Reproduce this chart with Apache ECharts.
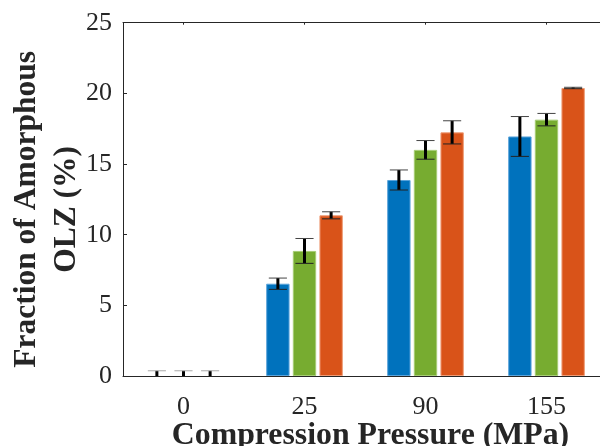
<!DOCTYPE html>
<html>
<head>
<meta charset="utf-8">
<script src="https://cdn.jsdelivr.net/npm/echarts@6/dist/echarts.min.js"></script>
<style>
html,body{margin:0;padding:0;background:#fff;overflow:hidden;}
#chart{width:600px;height:446px;}
</style>
</head>
<body>
<div id="chart"></div>
<script>
// ---- data ----
const categories = ['0', '25', '90', '155'];
const seriesNames = ['Series 1', 'Series 2', 'Series 3'];
const blueValues  = [0, 6.53, 13.87, 16.95];
const blueErrors  = [0.37, 0.40, 0.71, 1.41];
const greenValues = [0, 8.85, 16.0, 18.14];
const greenErrors = [0.37, 0.88, 0.66, 0.44];
const redValues   = [0, 11.37, 17.24, 20.38];
const redErrors   = [0.37, 0.25, 0.82, 0.05];
const yTicks = { min: 0, max: 25, interval: 5 };

const colors = ['#0072BD', '#77AC30', '#D95319'];
const edgeColors = ['#5aa3da', '#a6cc74', '#ee9a74'];
const FONT = 'Liberation Serif';
const BAR_W = 0.193;   // fraction of category band
const BAR_GAP = 0.14;  // fraction of bar width
const CAP_FRAC = 0.15; // cap width as fraction of band

const values = [blueValues, greenValues, redValues];
const errors = [blueErrors, greenErrors, redErrors];

function errRender(k) {
  return function (params, api) {
    const ci = api.value(0), v = api.value(1), e = api.value(2);
    const band = api.size([1, 0])[0];
    const off = (k - 1) * band * BAR_W * (1 + BAR_GAP);
    const hi = api.coord([ci, v + e]);
    const lo = api.coord([ci, v - e]);
    const x = hi[0] + off;
    const h = band * CAP_FRAC / 2;
    const capColor = v === 0 ? '#aaa' : '#444';
    return {
      type: 'group',
      children: [
        { type: 'line', shape: { x1: x, y1: hi[1], x2: x, y2: lo[1] }, style: { stroke: '#000', lineWidth: 3 } },
        { type: 'line', shape: { x1: x - h, y1: hi[1], x2: x + h, y2: hi[1] }, style: { stroke: capColor, lineWidth: 1 } },
        { type: 'line', shape: { x1: x - h, y1: lo[1], x2: x + h, y2: lo[1] }, style: { stroke: '#222', lineWidth: 1 } }
      ]
    };
  };
}

const series = [];
for (let k = 0; k < 3; k++) {
  series.push({
    name: seriesNames[k],
    type: 'bar',
    data: values[k].map(v => v === 0 ? { value: v, itemStyle: { borderWidth: 0 } } : v),
    barWidth: (BAR_W * 100) + '%',
    barGap: (BAR_GAP * 100) + '%',
    itemStyle: { color: colors[k], borderColor: edgeColors[k], borderWidth: 1 },
    silent: true
  });
}
for (let k = 0; k < 3; k++) {
  series.push({
    name: seriesNames[k] + ' error',
    type: 'custom',
    clip: true,
    renderItem: errRender(k),
    encode: { x: 0, y: 1 },
    data: categories.map((c, i) => [i, values[k][i], errors[k][i]]),
    z: 5,
    silent: true
  });
}

const axisColor = '#262626';
const chart = echarts.init(document.getElementById('chart'), null, { renderer: 'canvas' });
chart.setOption({
  animation: false,
  backgroundColor: '#fff',
  grid: { left: 123, top: 22.7, right: -7, bottom: 70, containLabel: false, outerBoundsMode: 'none' },
  xAxis: [{
    type: 'category',
    data: categories,
    position: 'bottom',
    axisLine: { lineStyle: { color: axisColor, width: 1 } },
    axisTick: { inside: true, length: 2, alignWithLabel: true, lineStyle: { color: axisColor } },
    axisLabel: { color: '#262626', fontFamily: FONT, fontSize: 26, margin: 18 },
    name: 'Compression Pressure (MPa)',
    nameLocation: 'middle',
    nameGap: 60,
    nameMoveOverlap: false,
    nameTextStyle: { color: '#262626', fontFamily: FONT, fontWeight: 'bold', fontSize: 31.8, verticalAlign: 'middle', align: 'center', padding: [0, 0, 0, 11] }
  }, {
    type: 'category',
    data: categories,
    position: 'top',
    axisLine: { show: true, lineStyle: { color: axisColor, width: 1 } },
    axisTick: { show: true, inside: true, length: 2, alignWithLabel: true, lineStyle: { color: axisColor } },
    axisLabel: { show: false }
  }],
  yAxis: {
    type: 'value',
    min: yTicks.min, max: yTicks.max, interval: yTicks.interval,
    axisLine: { show: true, lineStyle: { color: axisColor, width: 1 } },
    axisTick: { show: true, inside: true, length: 4, lineStyle: { color: axisColor } },
    splitLine: { show: false },
    axisLabel: { color: '#262626', fontFamily: FONT, fontSize: 26, margin: 11 },
    name: 'Fraction of Amorphous\nOLZ (%)',
    nameLocation: 'middle',
    nameRotate: 90,
    nameGap: 76,
    nameMoveOverlap: false,
    nameTextStyle: { color: '#262626', fontFamily: FONT, fontWeight: 'bold', fontSize: 31.5, lineHeight: 40, verticalAlign: 'middle', align: 'center', padding: [0, 20, 0, 0] }
  },
  series: series
});
</script>
</body>
</html>
